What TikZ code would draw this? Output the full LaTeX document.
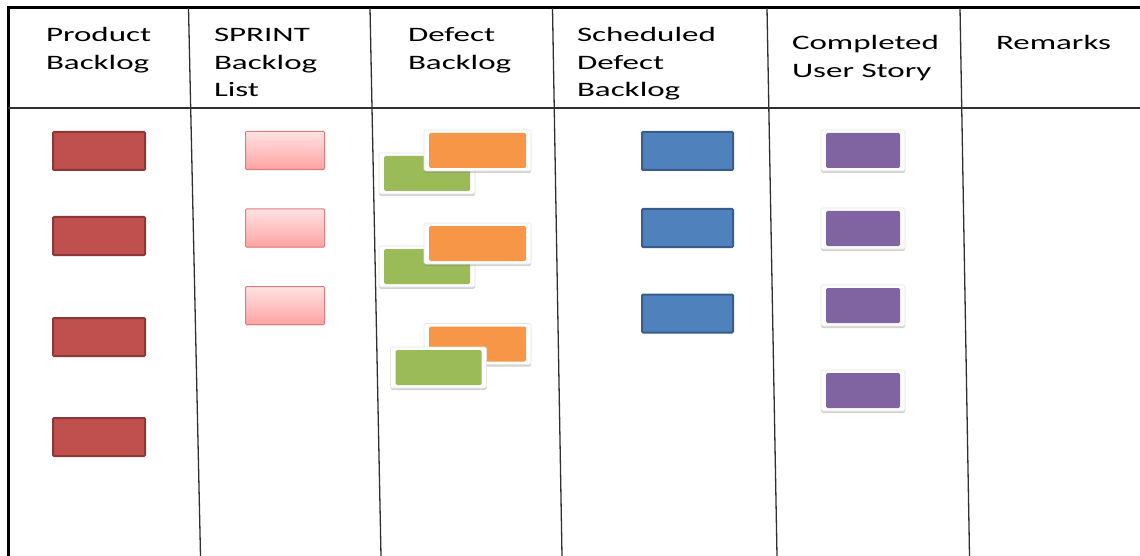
\documentclass[tikz,border=0pt]{standalone}
\usepackage{fontspec}
\usepackage{graphicx}
\setmainfont{Carlito}
\usetikzlibrary{shadows}

\definecolor{pbFill}{HTML}{C0504D}
\definecolor{pbEdge}{HTML}{8C3836}
\definecolor{sbTop}{HTML}{FFE2E2}
\definecolor{sbBot}{HTML}{FFA3A3}
\definecolor{sbEdge}{HTML}{E27A7A}
\definecolor{dfOrange}{HTML}{F79646}
\definecolor{dfGreen}{HTML}{9BBB59}
\definecolor{sdFill}{HTML}{4F81BD}
\definecolor{sdEdge}{HTML}{385D8A}
\definecolor{usPurple}{HTML}{8064A2}
\definecolor{rule}{HTML}{303030}

% header text: Calibri-metric face, widened
\newcommand{\hdrtext}[1]{\scalebox{1.61}[1]{\begin{tabular}[t]{@{}l@{}}#1\end{tabular}}}

\tikzset{
  hdr/.style={anchor=base west, inner sep=0pt, outer sep=0pt,
    font=\fontsize{20.5pt}{27.5pt}\selectfont, text=black},
  card/.style={rectangle, inner sep=0pt, outer sep=0pt},
  prodcard/.style={card, minimum width=92pt, minimum height=38pt,
    fill=pbFill, draw=pbEdge, line width=2pt, rounded corners=1pt,
    drop shadow={shadow xshift=0pt, shadow yshift=-1pt, opacity=0.15}},
  sprintcard/.style={card, minimum width=79pt, minimum height=38pt,
    top color=sbTop, bottom color=sbBot, draw=sbEdge, line width=1pt,
    rounded corners=1pt,
    drop shadow={shadow xshift=0pt, shadow yshift=-1.2pt, opacity=0.2}},
  schedcard/.style={card, minimum width=91pt, minimum height=38pt,
    fill=sdFill, draw=sdEdge, line width=2pt, rounded corners=1pt,
    drop shadow={shadow xshift=0pt, shadow yshift=-1pt, opacity=0.15}},
  % white-mounted sticky note: white mount with shadow, coloured face inset
  framed/.style={card, fill=white, draw=black!10, line width=0.6pt,
    rounded corners=1.5pt, minimum height=41pt,
    drop shadow={shadow xshift=0pt, shadow yshift=-2pt, opacity=0.35},
    path picture={\fill[#1]
      ([shift={(5pt,3pt)}]path picture bounding box.south west) rectangle
      ([shift={(-5pt,-3pt)}]path picture bounding box.north east);}},
  orangecard/.style={framed=dfOrange, minimum width=107pt},
  greencard/.style={framed=dfGreen, minimum width=96pt},
  storycard/.style={framed=usPurple, minimum width=84pt},
  frameline/.style={line width=3pt, draw=black, line join=miter},
  colline/.style={line width=1.3pt, draw=rule},
}

\begin{document}
\begin{tikzpicture}[x=1pt, y=-1pt]
\useasboundingbox (0,0) rectangle (1140,556);

% board frame and header rule
\draw[frameline] (8,556) -- (8,8) -- (1140,8);
\draw[colline] (8,108) -- (1140,108);

% column separators
\draw[colline] (188.5,8) -- (200.5,556);
\draw[colline] (370,8) -- (381,556);
\draw[colline] (552.5,8) -- (562,556);
\draw[colline] (767,8) -- (777,556);
\draw[colline] (960,8) -- (969.5,556);

% column headings
\node[hdr] (hProduct) at (46,42) {\hdrtext{Product\\Backlog}};
\node[hdr] (hSprint) at (214,42) {\hdrtext{SPRINT\\Backlog\\List}};
\node[hdr] (hDefect) at (408,42) {\hdrtext{Defect\\Backlog}};
\node[hdr] (hSched) at (577,42) {\hdrtext{Scheduled\\Defect\\Backlog}};
\node[hdr] (hDone) at (792,50) {\hdrtext{Completed\\User Story}};
\node[hdr] (hRemarks) at (996,50) {\hdrtext{Remarks}};

% product backlog items
\node[prodcard] (p1) at (99,151) {};
\node[prodcard] (p2) at (99,236) {};
\node[prodcard] (p3) at (99,337) {};
\node[prodcard] (p4) at (99,437) {};

% sprint backlog items
\node[sprintcard] (s1) at (285,150.5) {};
\node[sprintcard] (s2) at (285,228) {};
\node[sprintcard] (s3) at (285,305.5) {};

% defect backlog items
\node[greencard] (g1) at (427,173.5) {};
\node[orangecard] (o1) at (477.5,150.5) {};
\node[greencard] (g2) at (427,266.5) {};
\node[orangecard] (o2) at (477.5,243.5) {};
\node[orangecard] (o3) at (477.5,344) {};
\node[greencard] (g3) at (438.5,367.5) {};

% scheduled defect items
\node[schedcard] (d1) at (687.5,151) {};
\node[schedcard] (d2) at (687.5,228) {};
\node[schedcard] (d3) at (687.5,313.5) {};

% completed user stories
\node[storycard] (u1) at (863,150.5) {};
\node[storycard] (u2) at (863,228.5) {};
\node[storycard] (u3) at (863,305.5) {};
\node[storycard] (u4) at (863,390.5) {};
\end{tikzpicture}
\end{document}
